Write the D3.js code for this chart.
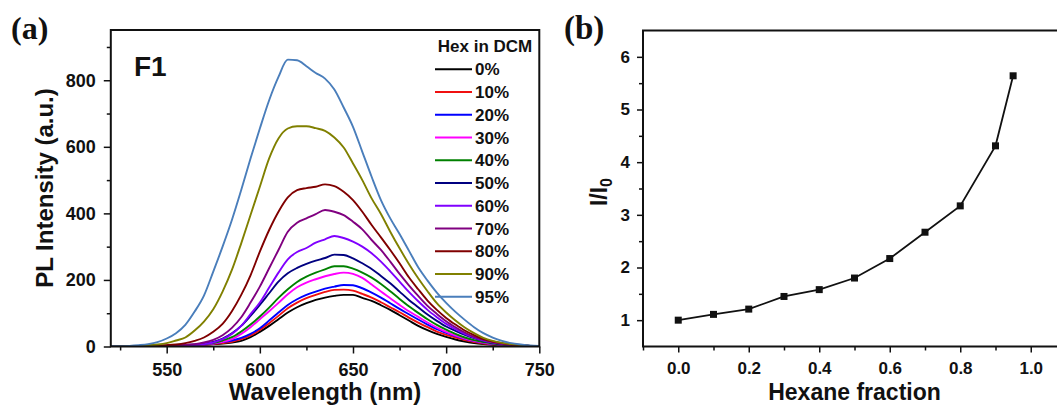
<!DOCTYPE html>
<meta charset="utf-8">
<head>
    <script src="https://d3js.org/d3.v7.min.js"></script>
    <style>
        body { margin: 0; background: #fff; }
        text { font-family: "Liberation Sans", Arial, sans-serif; font-weight: bold; fill: #111; }
        .panel-tag { font-family: "Liberation Serif", "Times New Roman", serif; }
        .frame { fill: none; stroke: #111; stroke-width: 2px; }
        .tick line { stroke: #111; stroke-width: 1.5px; }
    </style>
    <title>PL spectra and I/I0</title>
</head>
<body>
<svg id="chart" width="1057" height="407"></svg>

<script>

    // panel (a): PL spectra, wavelength grid in nm
    var wavelength = [520, 525, 530, 535, 540, 545, 550, 555, 560, 565, 570, 575, 580, 585, 590, 595,
        600, 605, 610, 615, 620, 625, 630, 635, 640, 645, 650, 655, 660, 665, 670, 675,
        680, 685, 690, 695, 700, 705, 710, 715, 720, 725, 730, 735, 740, 745, 750];

    var hex0 = [0, 0, 0, 0, 0, 1, 1, 2, 3, 4, 5, 7, 9, 12, 17, 28, 44, 62, 82, 102, 118, 130, 140, 147, 152, 155,
        155, 146, 137, 124, 110, 94, 78, 62, 49, 38, 29, 21, 15, 10, 7, 5, 3, 2, 1, 1, 1];
    var hex10 = [0, 0, 0, 0, 0, 1, 1, 2, 3, 4, 5, 7, 10, 14, 22, 33, 50, 70, 92, 115, 132, 145, 155, 164, 170, 171,
        168, 158, 147, 133, 118, 103, 87, 72, 58, 45, 35, 27, 19, 13, 9, 6, 4, 3, 2, 1, 1];
    var hex20 = [0, 0, 0, 0, 0, 1, 1, 2, 3, 4, 6, 9, 13, 18, 26, 38, 55, 78, 102, 125, 142, 155, 165, 174, 180, 185,
        184, 175, 162, 147, 130, 113, 97, 81, 66, 52, 41, 31, 23, 16, 11, 7, 5, 3, 2, 1, 1];
    var hex30 = [0, 0, 0, 0, 0, 1, 1, 2, 3, 4, 6, 9, 14, 22, 38, 58, 82, 106, 131, 157, 178, 192, 202, 211, 218, 222,
        218, 206, 186, 165, 145, 125, 106, 89, 72, 57, 44, 33, 24, 17, 12, 8, 5, 4, 2, 1, 1];
    var hex40 = [0, 0, 0, 0, 0, 1, 2, 3, 4, 5, 7, 10, 18, 28, 45, 66, 90, 117, 146, 172, 194, 210, 222, 232, 241, 241,
        234, 222, 207, 188, 166, 143, 121, 101, 82, 65, 51, 38, 27, 19, 13, 9, 6, 4, 3, 2, 1];
    var hex50 = [0, 0, 0, 0, 0, 1, 2, 3, 4, 6, 9, 14, 24, 40, 62, 92, 125, 160, 195, 220, 236, 248, 258, 266, 276, 275,
        265, 250, 233, 212, 190, 165, 140, 118, 96, 77, 60, 47, 35, 25, 17, 11, 7, 5, 3, 2, 1];
    var hex60 = [0, 0, 0, 0, 0, 1, 2, 3, 4, 5, 7, 12, 22, 38, 62, 97, 132, 177, 222, 262, 284, 296, 312, 322, 332, 326,
        315, 300, 280, 255, 226, 195, 164, 136, 110, 88, 68, 52, 38, 27, 18, 12, 8, 5, 3, 2, 1];
    var hex70 = [0, 0, 0, 0, 1, 2, 3, 4, 5, 7, 12, 20, 34, 56, 88, 132, 180, 235, 290, 345, 372, 385, 398, 410, 405, 395,
        375, 352, 320, 290, 255, 218, 184, 152, 122, 98, 76, 58, 42, 29, 20, 13, 8, 5, 3, 2, 1];
    var hex80 = [0, 0, 0, 1, 2, 3, 4, 6, 10, 17, 27, 44, 68, 106, 155, 214, 285, 350, 405, 448, 470, 476, 480, 487, 482, 465,
        440, 405, 365, 328, 290, 250, 208, 172, 138, 110, 86, 66, 48, 34, 22, 15, 10, 6, 4, 2, 1];
    var hex90 = [0, 0, 1, 2, 4, 6, 10, 18, 27, 48, 75, 112, 165, 230, 310, 395, 480, 565, 625, 655, 662, 662, 656, 648, 628, 598,
        550, 500, 445, 398, 345, 295, 248, 205, 166, 130, 102, 78, 57, 40, 26, 17, 11, 7, 4, 2, 1];
    var hex95 = [1, 1, 2, 4, 7, 13, 24, 40, 65, 105, 153, 225, 300, 380, 470, 565, 655, 740, 810, 862, 860, 842, 822, 805, 772, 718,
        660, 585, 510, 440, 385, 338, 288, 238, 198, 162, 131, 104, 80, 58, 40, 27, 17, 10, 6, 3, 2];

    var seriesLabels = ["0%", "10%", "20%", "30%", "40%", "50%", "60%", "70%", "80%", "90%", "95%"];
    var seriesValues = [hex0, hex10, hex20, hex30, hex40, hex50, hex60, hex70, hex80, hex90, hex95];
    var seriesColors = ["#000000", "#f01010", "#0000ff", "#ff00ff", "#008000", "#000080",
        "#8000ff", "#800080", "#800000", "#808000", "#4a7ebb"];

    var specXTicks = [550, 600, 650, 700, 750];
    var specXMinor = [525, 575, 625, 675, 725];
    var specYTicks = [0, 200, 400, 600, 800];
    var specYMinor = [100, 300, 500, 700, 900];

    // panel (b): I/I0 against hexane fraction
    var hexFraction = [0, 0.1, 0.2, 0.3, 0.4, 0.5, 0.6, 0.7, 0.8, 0.9, 0.95];
    var intensityRatio = [1.0, 1.11, 1.21, 1.45, 1.58, 1.80, 2.17, 2.67, 3.17, 4.31, 5.64];

    var fracXTicks = [0, 0.2, 0.4, 0.6, 0.8, 1.0];
    var fracXMinor = [-0.1, 0.1, 0.3, 0.5, 0.7, 0.9];
    var ratioYTicks = [1, 2, 3, 4, 5, 6];
    var ratioYMinor = [1.5, 2.5, 3.5, 4.5, 5.5];


    var svg = d3.select("#chart");

    function addAxis(g, axisFn, scale, values, size, pad, fmt, fontSize) {
        var ax = axisFn(scale).tickValues(values).tickSizeInner(size).tickSizeOuter(0).tickPadding(pad);
        ax.tickFormat(fmt ? fmt : function () { return ""; });
        var sel = g.call(ax);
        sel.select(".domain").remove();
        sel.selectAll("text").style("font-size", fontSize + "px").attr("fill", "#111");
        return sel;
    }

    // ---------- panel (a) ----------
    var xa = d3.scaleLinear().domain([520, 750]).range([110.8, 539.3]);
    var ya = d3.scaleLinear().domain([0, 951]).range([346.5, 30]);

    svg.append("clipPath").attr("id", "clipA")
        .append("rect")
        .attr("x", xa(520)).attr("y", ya(951))
        .attr("width", xa(750) - xa(520)).attr("height", ya(0) - ya(951));

    var line = d3.line()
        .x(function (d, i) { return xa(wavelength[i]); })
        .y(function (d) { return ya(d); })
        .curve(d3.curveMonotoneX);

    var curves = svg.append("g").attr("clip-path", "url(#clipA)");
    seriesValues.forEach(function (vals, k) {
        curves.append("path")
            .datum(vals)
            .attr("d", line)
            .attr("fill", "none")
            .attr("stroke", seriesColors[k])
            .attr("stroke-width", 1.9);
    });

    var axA = svg.append("g");
    addAxis(axA.append("g").attr("transform", "translate(0," + ya(0) + ")"), d3.axisBottom, xa, specXTicks, 7, 9.5, d3.format("d"), 18);
    addAxis(axA.append("g").attr("transform", "translate(0," + ya(0) + ")"), d3.axisBottom, xa, specXMinor, 4, 3, null, 18);
    addAxis(axA.append("g").attr("transform", "translate(" + xa(520) + ",0)"), d3.axisLeft, ya, specYTicks, 7, 8, d3.format("d"), 18);
    addAxis(axA.append("g").attr("transform", "translate(" + xa(520) + ",0)"), d3.axisLeft, ya, specYMinor, 4, 3, null, 18);

    svg.append("rect").attr("class", "frame")
        .attr("x", xa(520)).attr("y", ya(951))
        .attr("width", xa(750) - xa(520)).attr("height", ya(0) - ya(951));

    // legend
    var legend = svg.append("g");
    legend.append("text")
        .attr("x", 485).attr("y", 52)
        .attr("text-anchor", "middle")
        .style("font-size", "17px")
        .text("Hex in DCM");
    seriesLabels.forEach(function (lab, k) {
        var ly = 69.3 + k * 22.74;
        legend.append("line")
            .attr("x1", 435).attr("x2", 472)
            .attr("y1", ly).attr("y2", ly)
            .attr("stroke", seriesColors[k])
            .attr("stroke-width", 2);
        legend.append("text")
            .attr("x", 475).attr("y", ly)
            .attr("dy", "0.36em")
            .style("font-size", "17px")
            .text(lab);
    });

    svg.append("text")
        .attr("x", 134).attr("y", 76)
        .style("font-size", "28px")
        .text("F1");

    svg.append("text")
        .attr("transform", "translate(" + ((xa(520) + xa(750)) / 2) + ",400)")
        .attr("text-anchor", "middle")
        .style("font-size", "24px")
        .text("Wavelength (nm)");

    svg.append("text")
        .attr("transform", "translate(53,188) rotate(-90)")
        .attr("text-anchor", "middle")
        .style("font-size", "24px")
        .text("PL Intensity (a.u.)");

    svg.append("text")
        .attr("class", "panel-tag")
        .attr("x", 11).attr("y", 39)
        .style("font-size", "32px")
        .text("(a)");

    // ---------- panel (b) ----------
    var xb = d3.scaleLinear().domain([-0.1, 1.1]).range([643, 1066]);
    var yb = d3.scaleLinear().domain([0.5, 6.5]).range([346.5, 30.5]);

    var axB = svg.append("g");
    addAxis(axB.append("g").attr("transform", "translate(0," + yb(0.5) + ")"), d3.axisBottom, xb, fracXTicks, 6, 9, d3.format(".1f"), 17);
    addAxis(axB.append("g").attr("transform", "translate(0," + yb(0.5) + ")"), d3.axisBottom, xb, fracXMinor, 4, 3, null, 17);
    addAxis(axB.append("g").attr("transform", "translate(" + xb(-0.1) + ",0)"), d3.axisLeft, yb, ratioYTicks, 6, 7, d3.format("d"), 17);
    addAxis(axB.append("g").attr("transform", "translate(" + xb(-0.1) + ",0)"), d3.axisLeft, yb, ratioYMinor, 4, 3, null, 17);

    svg.append("rect").attr("class", "frame")
        .attr("x", xb(-0.1)).attr("y", yb(6.5))
        .attr("width", xb(1.1) - xb(-0.1)).attr("height", yb(0.5) - yb(6.5));

    var lineB = d3.line()
        .x(function (d, i) { return xb(hexFraction[i]); })
        .y(function (d) { return yb(d); });

    svg.append("path")
        .datum(intensityRatio)
        .attr("d", lineB)
        .attr("fill", "none")
        .attr("stroke", "#111")
        .attr("stroke-width", 1.8);

    svg.append("g").selectAll("rect")
        .data(intensityRatio)
        .enter().append("rect")
        .attr("x", function (d, i) { return xb(hexFraction[i]) - 3.5; })
        .attr("y", function (d) { return yb(d) - 3.5; })
        .attr("width", 7).attr("height", 7)
        .attr("fill", "#111");

    svg.append("text")
        .attr("transform", "translate(" + ((xb(-0.1) + xb(1.1)) / 2) + ",400)")
        .attr("text-anchor", "middle")
        .style("font-size", "23px")
        .text("Hexane fraction");

    var yLab = svg.append("text")
        .attr("transform", "translate(607,192) rotate(-90)")
        .attr("text-anchor", "middle")
        .style("font-size", "23px");
    yLab.append("tspan").text("I/I");
    yLab.append("tspan").attr("dy", "0.3em").style("font-size", "16px").text("0");

    svg.append("text")
        .attr("class", "panel-tag")
        .attr("x", 564).attr("y", 39)
        .style("font-size", "33px")
        .text("(b)");

</script>
</body>
